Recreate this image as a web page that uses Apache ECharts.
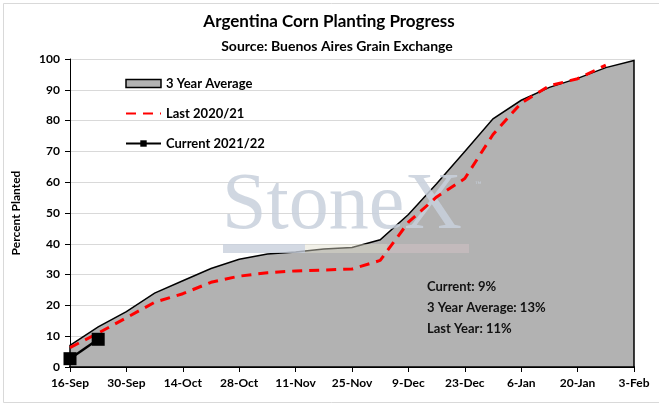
<!DOCTYPE html>
<html>
<head>
<meta charset="utf-8">
<script src="https://cdn.jsdelivr.net/npm/echarts@6/dist/echarts.min.js"></script>
<style>
html,body{margin:0;padding:0;background:#fff;}
#main{width:659px;height:403px;}
</style>
</head>
<body>
<div id="main"></div>
<script>
// x axis tick labels, every 14 days from 16-Sep
var xLabels = ['16-Sep','30-Sep','14-Oct','28-Oct','11-Nov','25-Nov','9-Dec','23-Dec','6-Jan','20-Jan','3-Feb'];

// days after 16-Sep for each weekly reading
var avgDays  = [0,7,14,21,28,35,42,49,56,63,70,77,84,91,98,105,112,119,126,133,140];
var avgVals  = [7,13,18,24,28,32,35,36.7,37.3,38.3,38.8,41.3,49.5,59.5,70,80.6,86.6,90.8,93.7,97.2,99.5];

var lastDays = [0,7,14,21,28,35,42,49,56,63,70,77,84,91,98,105,112,119,126,133];
var lastVals = [6.3,11,16,21,23.8,27.5,29.5,30.6,31.2,31.5,31.8,34.6,47,55.2,61.2,75.5,85.7,91.3,93.6,98];

var curDays  = [0,7];
var curVals  = [2.7,9];

var notes = ['Current: 9%','3 Year Average: 13%','Last Year: 11%'];

var FONT = 'Lato, "Open Sans", sans-serif';

function pairs(xs, ys){
	var out = [];
	for(var i=0;i<xs.length;i++){ out.push([xs[i], ys[i]]); }
	return out;
}

var myChart = echarts.init(document.getElementById('main'));

var option = {
	animation:false,
	backgroundColor:'#fff',
	textStyle:{fontFamily:FONT},
	title:[
		{text:'Argentina Corn Planting Progress', left:324, top:8, textAlign:'center',
		 textStyle:{fontFamily:FONT, fontSize:17, fontWeight:'bold', color:'#000'}},
		{text:'Source: Buenos Aires Grain Exchange', left:332, top:34, textAlign:'center',
		 textStyle:{fontFamily:FONT, fontSize:14, fontWeight:'bold', color:'#000'}}
	],
	legend:{
		orient:'vertical', left:125, top:77, padding:0,
		itemWidth:35, itemHeight:8, itemGap:17,
		textStyle:{fontFamily:FONT, fontSize:13, fontWeight:'bold', color:'#000'},
		data:[
			{name:'3 Year Average', icon:'rect', itemStyle:{color:'#b2b2b2', borderColor:'#000', borderWidth:1.5}},
			{name:'Last 2020/21', itemStyle:{opacity:0}},
			{name:'Current 2021/22'}
		]
	},
	grid:{left:70, right:25, top:59, bottom:36},
	xAxis:{
		type:'value', min:0, max:140, interval:14,
		axisLine:{lineStyle:{color:'#000', width:2}},
		axisTick:{show:true, length:5, lineStyle:{color:'#000'}},
		splitLine:{show:false},
		axisLabel:{color:'#000', fontSize:12, fontWeight:'bold', margin:10,
			formatter:function(v){ return xLabels[Math.round(v/14)]; }}
	},
	yAxis:{
		type:'value', min:0, max:100, interval:10,
		name:'Percent Planted', nameLocation:'middle', nameGap:48,
		nameTextStyle:{fontFamily:FONT, fontSize:12, fontWeight:'bold', color:'#000'},
		axisLine:{show:true, lineStyle:{color:'#000', width:1}},
		axisTick:{show:true, length:5, lineStyle:{color:'#000'}},
		splitLine:{lineStyle:{color:'#d9d9d9'}},
		axisLabel:{color:'#000', fontSize:12, fontWeight:'bold', margin:10}
	},
	graphic:[
		{type:'rect', left:1, top:1, z:0, shape:{width:656, height:399},
		 style:{fill:null, stroke:'#d9d9d9', lineWidth:1}},
		// StoneX watermark
		{type:'text', left:222, top:167, z:5,
		 style:{text:'StoneX', fontFamily:'"Liberation Serif", "DejaVu Serif", serif', fontSize:80,
			fill:'rgba(200,208,220,0.85)'}},
		{type:'text', left:475, top:181, z:5,
		 style:{text:'™', fontFamily:FONT, fontSize:9, fill:'rgba(200,208,220,0.85)'}},
		{type:'rect', left:223, top:244, z:5, shape:{width:82, height:9}, style:{fill:'rgba(200,208,220,0.8)'}},
		{type:'rect', left:305, top:244, z:5, shape:{width:82, height:9}, style:{fill:'rgba(225,222,205,0.45)'}},
		{type:'rect', left:387, top:244, z:5, shape:{width:82, height:9}, style:{fill:'rgba(215,195,200,0.45)'}},
		// summary notes
		{type:'text', left:427, top:280, z:20, style:{text:notes[0], fontFamily:FONT, fontSize:13, fontWeight:'bold', fill:'#111'}},
		{type:'text', left:427, top:301, z:20, style:{text:notes[1], fontFamily:FONT, fontSize:13, fontWeight:'bold', fill:'#111'}},
		{type:'text', left:427, top:322, z:20, style:{text:notes[2], fontFamily:FONT, fontSize:13, fontWeight:'bold', fill:'#111'}}
	],
	series:[
		{
			name:'3 Year Average',
			type:'custom',
			z:1,
			itemStyle:{color:'#b2b2b2', borderColor:'#000', borderWidth:1.5},
			data:pairs(avgDays, avgVals),
			encode:{x:0, y:1},
			renderItem:function(params, api){
				if(params.dataIndex !== 0) return null;
				var pts = [];
				for(var i=0;i<avgDays.length;i++){
					pts.push(api.coord([avgDays[i], avgVals[i]]));
				}
				pts.push(api.coord([avgDays[avgDays.length-1], 0]));
				pts.push(api.coord([avgDays[0], 0]));
				return {type:'polygon', shape:{points:pts},
					style:{fill:'#b2b2b2', stroke:'#000', lineWidth:1.5}};
			}
		},
		{
			name:'Last 2020/21',
			type:'line',
			z:10,
			data:pairs(lastDays, lastVals),
			showSymbol:false, symbol:'none',
			lineStyle:{color:'#ff0000', width:3, type:[10,7]},
			itemStyle:{color:'#ff0000'}
		},
		{
			name:'Current 2021/22',
			type:'line',
			z:11,
			data:pairs(curDays, curVals),
			symbol:'rect', symbolSize:13,
			lineStyle:{color:'#000', width:2.5},
			itemStyle:{color:'#000'}
		}
	]
};

myChart.setOption(option);
</script>
</body>
</html>
